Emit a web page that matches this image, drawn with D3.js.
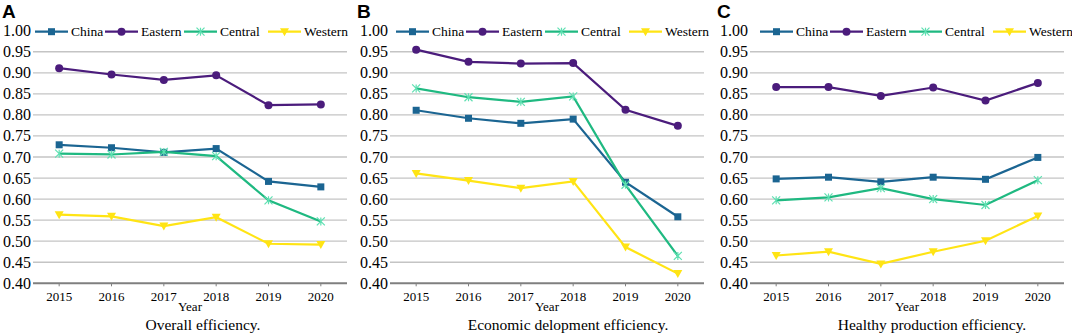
<!DOCTYPE html>
<html>
<head>
<meta charset="utf-8">
<script src="https://cdn.jsdelivr.net/npm/d3@7"></script>
<style>
  body { margin: 0; background: #fff; }
  svg { display: block; }
  text { font-family: "Liberation Serif", "Times New Roman", serif; fill: #000; }
</style>
</head>
<body>
<svg id="chart" width="1072" height="336"></svg>
<script>
// data
var years = ["2015", "2016", "2017", "2018", "2019", "2020"];
var seriesNames = ["China", "Eastern", "Central", "Western"];
var yTicks = [0.40, 0.45, 0.50, 0.55, 0.60, 0.65, 0.70, 0.75, 0.80, 0.85, 0.90, 0.95, 1.00];
var panelLetters = ["A", "B", "C"];
var panelTitles = ["Overall efficiency.", "Economic delopment efficiency.", "Healthy production efficiency."];

// panel A
var overallChina   = [0.729, 0.722, 0.711, 0.720, 0.642, 0.629];
var overallEastern = [0.911, 0.896, 0.883, 0.894, 0.823, 0.825];
var overallCentral = [0.708, 0.706, 0.712, 0.702, 0.597, 0.547];
var overallWestern = [0.563, 0.559, 0.536, 0.557, 0.494, 0.492];
// panel B
var econChina   = [0.811, 0.792, 0.780, 0.790, 0.640, 0.558];
var econEastern = [0.955, 0.926, 0.922, 0.923, 0.812, 0.774];
var econCentral = [0.863, 0.842, 0.831, 0.844, 0.634, 0.465];
var econWestern = [0.661, 0.644, 0.626, 0.642, 0.486, 0.423];
// panel C
var healthChina   = [0.648, 0.652, 0.641, 0.652, 0.647, 0.699];
var healthEastern = [0.866, 0.866, 0.845, 0.865, 0.834, 0.876];
var healthCentral = [0.597, 0.604, 0.626, 0.600, 0.586, 0.645];
var healthWestern = [0.466, 0.475, 0.446, 0.475, 0.501, 0.560];

var panelData = [
  [overallChina, overallEastern, overallCentral, overallWestern],
  [econChina, econEastern, econCentral, econWestern],
  [healthChina, healthEastern, healthCentral, healthWestern]
];

var colors = ["#1b6592", "#4b1c7c", "#1fb981", "#ffe414"];
var markerFill = ["#1b6592", "#4b1c7c", "#5fe0b2", "#ffe414"];

var svg = d3.select("#chart");

var plotLeft = [33, 390, 750];
var plotW = 314;
var titleShift = [13, 21, 25];
var legendShift = [0, 4, 8];
var legendOffsets = [2, 72, 151, 235];

var y = d3.scaleLinear()
  .domain([0.4, 1.0])
  .range([283.3, 30.7]);

function drawMarker(g, i, cx, cy) {
  if (i == 0) {
    g.append("rect").attr("x", cx - 3.5).attr("y", cy - 3.5)
      .attr("width", 7).attr("height", 7).attr("fill", markerFill[i]);
  } else if (i == 1) {
    g.append("circle").attr("cx", cx).attr("cy", cy).attr("r", 4)
      .attr("fill", markerFill[i]);
  } else if (i == 2) {
    var s = 4;
    var p = "M" + (cx - s) + "," + (cy - s) + "L" + (cx + s) + "," + (cy + s) +
      "M" + (cx - s) + "," + (cy + s) + "L" + (cx + s) + "," + (cy - s) +
      "M" + cx + "," + (cy - s) + "L" + cx + "," + (cy + s);
    g.append("path").attr("d", p).attr("stroke", markerFill[i])
      .attr("stroke-width", 1.2).attr("fill", "none");
  } else {
    g.append("path")
      .attr("d", "M" + (cx - 4.5) + "," + (cy - 3.5) + "L" + (cx + 4.5) + "," + (cy - 3.5) +
        "L" + cx + "," + (cy + 4.5) + "Z")
      .attr("fill", markerFill[i]);
  }
}

panelData.forEach(function (series, p) {
  var left = plotLeft[p];
  var g = svg.append("g");

  var x = d3.scaleBand()
    .domain(years)
    .range([left, left + plotW]);

  // panel letter
  g.append("text")
    .attr("x", left - 31 + (p == 0 ? 0 : -2))
    .attr("y", 18)
    .style("font-family", "'Liberation Sans', Arial, sans-serif")
    .style("font-weight", "bold")
    .style("font-size", "19px")
    .text(panelLetters[p]);

  // grid lines
  g.selectAll("line.grid")
    .data(yTicks.filter(function (d) { return d > 0.41 && d < 0.99; }))
    .enter().append("line")
    .attr("class", "grid")
    .attr("x1", left).attr("x2", left + plotW)
    .attr("y1", function (d) { return y(d); })
    .attr("y2", function (d) { return y(d); })
    .attr("stroke", "#c4c4c4")
    .attr("stroke-width", 1.3);

  // y labels
  g.selectAll("text.ylab")
    .data(yTicks)
    .enter().append("text")
    .attr("class", "ylab")
    .attr("x", left - 2)
    .attr("y", function (d) { return y(d) + 5.5; })
    .attr("text-anchor", "end")
    .style("font-size", "16px")
    .text(function (d) { return d3.format(".2f")(d); });

  // x axis
  var xAxis = g.append("g")
    .attr("transform", "translate(0," + y(0.4) + ")")
    .call(d3.axisBottom(x).tickSize(3).tickPadding(5));
  xAxis.select(".domain").attr("stroke", "#7f7f7f").attr("stroke-width", 2)
    .attr("d", "M" + left + ",0H" + (left + plotW));
  xAxis.selectAll(".tick line").attr("stroke", "#7f7f7f");
  xAxis.selectAll(".tick text")
    .style("font-family", "'Liberation Serif', 'Times New Roman', serif")
    .style("font-size", "13px")
    .attr("fill", "#000");

  g.append("text")
    .attr("x", left + plotW / 2)
    .attr("y", 311)
    .attr("text-anchor", "middle")
    .style("font-size", "13px")
    .text("Year");

  g.append("text")
    .attr("x", left + plotW / 2 + titleShift[p])
    .attr("y", 330)
    .attr("text-anchor", "middle")
    .style("font-size", "15.5px")
    .text(panelTitles[p]);

  // lines
  var line = d3.line()
    .x(function (d, i) { return x(years[i]) + x.bandwidth() / 2; })
    .y(function (d) { return y(d); });

  series.forEach(function (vals, i) {
    g.append("path")
      .datum(vals)
      .attr("d", line)
      .attr("fill", "none")
      .attr("stroke", colors[i])
      .attr("stroke-width", 2.2);
    vals.forEach(function (v, j) {
      drawMarker(g, i, x(years[j]) + x.bandwidth() / 2, y(v));
    });
  });

  // legend
  var ly = y(1.0) + 1;
  seriesNames.forEach(function (name, i) {
    var lx = left + legendShift[p] + legendOffsets[i];
    g.append("line")
      .attr("x1", lx).attr("x2", lx + 33)
      .attr("y1", ly).attr("y2", ly)
      .attr("stroke", colors[i]).attr("stroke-width", 2.2);
    drawMarker(g, i, lx + 16.5, ly);
    g.append("text")
      .attr("x", lx + 36)
      .attr("y", ly + 4.5)
      .style("font-size", "13.5px")
      .text(name);
  });
});
</script>
</body>
</html>
